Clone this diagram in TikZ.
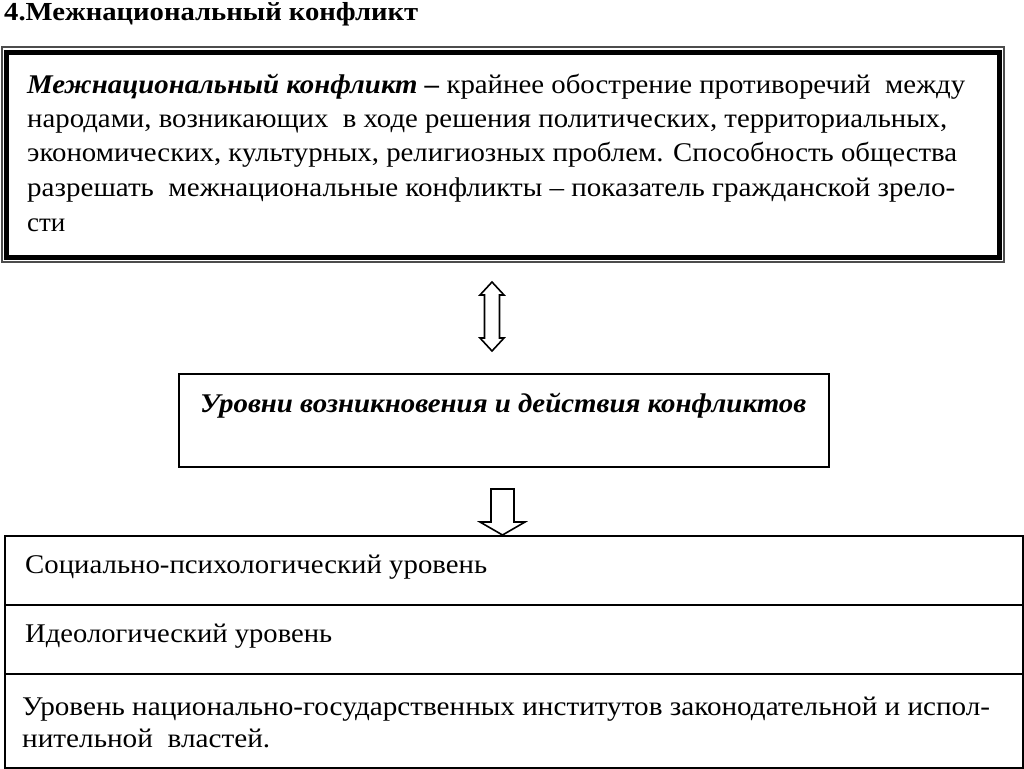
\documentclass[tikz,border=0pt]{standalone}
\usepackage{fontspec}
\setmainfont{Liberation Serif}
\usepackage{graphicx}
\newcommand\fitw[2]{\resizebox{#1pt}{\height}{#2}}
\tikzset{
  txt/.style={anchor=base west, inner sep=0pt, font=\fontsize{27}{33}\selectfont},
  frameline/.style={line width=2pt, draw=black},
  blockarrow/.style={draw=black, line width=1.6pt, fill=white, line join=miter},
}
\begin{document}
\begin{tikzpicture}[x=1pt,y=-1pt]
\useasboundingbox (0,0) rectangle (1024,768);
% title
\node[txt, font=\fontsize{26}{30}\selectfont\bfseries] (title) at (4,21) {\fitw{414}{4.Межнациональный конфликт}};
% top definition box: thin outer line + thick frame
\draw[line width=1.2pt, draw=black!70] (2,47) rectangle (1004,262);
\draw[line width=5pt] (6.5,52.5) rectangle (999,257.5);
\coordinate (defbottom) at (492,262);
\node[txt] (d1) at (27,93) {\fitw{938}{\textbf{\textit{Межнациональный конфликт –}} крайнее обострение противоречий~ между}};
\node[txt] (d2) at (27,127) {\fitw{920}{народами, возникающих~ в ходе решения политических, территориальных,}};
\node[txt] (d3) at (27,161) {\fitw{930}{экономических, культурных, религиозных проблем. Способность общества}};
\node[txt] (d4) at (27,196) {\fitw{928}{разрешать~ межнациональные конфликты – показатель гражданской зрело-}};
\node[txt] (d5) at (27,231) {сти};
% levels box
\node[draw=black, line width=2pt, minimum width=650pt, minimum height=93pt, inner sep=0pt, anchor=north west] (levels) at (178,373) {};
\node[txt, font=\fontsize{27}{33}\selectfont\bfseries\itshape] (levtext) at (200,412) {\fitw{606}{Уровни возникновения и действия конфликтов}};
% double arrow
\draw[blockarrow] (492,282) -- (504,295) -- (499.5,295) -- (499.5,338) -- (504,338) -- (492,351) -- (480,338) -- (484.5,338) -- (484.5,295) -- (480,295) -- cycle;
% down arrow
\draw[blockarrow] (491,489) -- (514,489) -- (514,522) -- (525,522) -- (502.5,535) -- (480,522) -- (491,522) -- cycle;
% bottom table
\node[draw=black, line width=2pt, minimum width=1018pt, minimum height=69pt, inner sep=0pt, anchor=north west] (row1) at (4,535) {};
\node[draw=black, line width=2pt, minimum width=1018pt, minimum height=69pt, inner sep=0pt, anchor=north west] (row2) at (4,604) {};
\node[draw=black, line width=2pt, minimum width=1018pt, minimum height=94pt, inner sep=0pt, anchor=north west] (row3) at (4,673) {};
\node[txt] (r1) at (25,573) {\fitw{462}{Социально-психологический уровень}};
\node[txt] (r2) at (25,642) {\fitw{307}{Идеологический уровень}};
\node[txt] (r3a) at (22,715) {\fitw{968}{Уровень национально-государственных институтов законодательной и испол-}};
\node[txt] (r3b) at (22,747) {\fitw{248}{нительной~ властей.}};
\end{tikzpicture}
\end{document}
